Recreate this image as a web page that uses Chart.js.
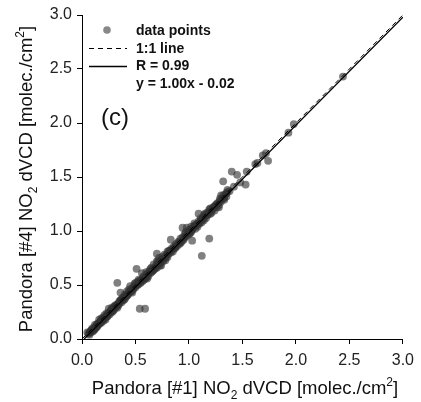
<!DOCTYPE html>
<html>
<head>
<meta charset="utf-8">
<script src="https://cdn.jsdelivr.net/npm/chart.js@4"></script>
<style>
html, body { margin: 0; padding: 0; background: #fff; }
</style>
</head>
<body>
<canvas id="scatter-chart" width="421" height="402"></canvas>
<script>
// NO2 dVCD, Pandora #1 (x) vs Pandora #4 (y)
const pandora1 = [
  0.06, 0.07, 0.08, 0.09, 0.10, 0.10, 0.11, 0.12, 0.12, 0.13,
  0.14, 0.14, 0.15, 0.16, 0.16, 0.17, 0.18, 0.18, 0.19, 0.20,
  0.20, 0.21, 0.22, 0.23, 0.23, 0.24, 0.25, 0.25, 0.26, 0.27,
  0.28, 0.28, 0.29, 0.30, 0.31, 0.31, 0.32, 0.33, 0.34, 0.35,
  0.35, 0.36, 0.37, 0.38, 0.39, 0.40, 0.40, 0.41, 0.42, 0.43,
  0.44, 0.45, 0.45, 0.46, 0.47, 0.48, 0.49, 0.50, 0.50, 0.51,
  0.52, 0.53, 0.54, 0.55, 0.56, 0.56, 0.57, 0.58, 0.59, 0.60,
  0.60, 0.61, 0.62, 0.63, 0.64, 0.65, 0.65, 0.66, 0.67, 0.68,
  0.69, 0.70, 0.70, 0.71, 0.72, 0.73, 0.74, 0.74, 0.75, 0.76,
  0.77, 0.78, 0.79, 0.80, 0.80, 0.81, 0.82, 0.83, 0.84, 0.85,
  0.86, 0.87, 0.88, 0.89, 0.90, 0.91, 0.92, 0.93, 0.94, 0.95,
  0.96, 0.97, 0.98, 0.99, 1.00, 1.00, 1.01, 1.02, 1.03, 1.04,
  1.05, 1.06, 1.07, 1.08, 1.09, 1.10, 1.11, 1.12, 1.13, 1.14,
  1.15, 1.16, 1.17, 1.18, 1.19, 1.20, 1.21, 1.22, 1.23, 1.24,
  1.25, 1.26, 1.27, 1.28, 1.29, 1.30, 1.31, 1.32, 1.33, 1.34,
  1.35, 1.36, 1.30, 1.32, 1.28, 1.20, 1.14, 1.08, 1.02, 0.96,
  0.08, 0.11, 0.13, 0.15, 0.17, 0.19, 0.21, 0.24, 0.26, 0.29,
  0.32, 0.34, 0.36, 0.38, 0.41, 0.43, 0.46, 0.48, 0.52, 0.55,
  0.58, 0.62, 0.66, 0.69, 0.72, 0.76, 0.79, 0.83, 0.87, 0.91,
  0.94, 0.98, 1.03, 1.06, 1.10, 1.13, 1.17, 1.22, 1.26, 1.33,
  0.07, 0.09, 0.12, 0.14, 0.16, 0.18, 0.20, 0.22, 0.24, 0.27,
  0.30, 0.33, 0.37, 0.39, 0.42, 0.44, 0.47, 0.49, 0.53, 0.57,
  0.61, 0.64, 0.67, 0.71, 0.73, 0.75, 0.78, 0.81, 0.85, 0.88,
  0.92, 0.97, 1.01, 1.05, 1.11, 1.15, 1.19, 1.24, 1.29, 1.35,
  0.05, 0.33, 0.36, 0.51, 0.54, 0.59, 0.70, 0.83, 0.94, 1.03,
  1.09, 1.12, 1.19, 1.32, 1.40, 1.45, 1.48, 1.53, 1.54, 1.62,
  1.64, 1.69, 1.72, 1.74, 1.93, 1.98, 2.44, 1.38, 1.42, 1.36
];
const pandora4 = [
  0.05, 0.06, 0.06, 0.08, 0.07, 0.10, 0.09, 0.10, 0.13, 0.11,
  0.14, 0.12, 0.13, 0.15, 0.18, 0.15, 0.17, 0.19, 0.17, 0.20,
  0.17, 0.22, 0.20, 0.21, 0.24, 0.22, 0.28, 0.24, 0.25, 0.27,
  0.25, 0.29, 0.28, 0.27, 0.31, 0.29, 0.30, 0.32, 0.31, 0.35,
  0.33, 0.36, 0.34, 0.38, 0.36, 0.41, 0.37, 0.40, 0.44, 0.41,
  0.43, 0.49, 0.44, 0.45, 0.47, 0.46, 0.51, 0.48, 0.52, 0.50,
  0.53, 0.51, 0.54, 0.53, 0.61, 0.55, 0.54, 0.58, 0.56, 0.62,
  0.57, 0.60, 0.58, 0.63, 0.61, 0.66, 0.62, 0.64, 0.69, 0.65,
  0.68, 0.72, 0.66, 0.69, 0.75, 0.70, 0.73, 0.68, 0.74, 0.72,
  0.78, 0.75, 0.77, 0.81, 0.76, 0.79, 0.82, 0.80, 0.84, 0.81,
  0.86, 0.84, 0.88, 0.86, 0.90, 0.88, 0.93, 0.90, 0.94, 0.92,
  0.97, 0.95, 1.03, 0.98, 1.01, 0.97, 1.00, 1.04, 1.01, 1.03,
  1.05, 1.02, 1.06, 1.04, 1.09, 1.07, 1.10, 1.08, 1.12, 1.10,
  1.14, 1.12, 1.17, 1.15, 1.18, 1.21, 1.17, 1.20, 1.22, 1.19,
  1.24, 1.22, 1.26, 1.24, 1.28, 1.27, 1.30, 1.33, 1.29, 1.34,
  1.32, 1.36, 1.33, 1.30, 1.22, 1.16, 1.15, 1.06, 0.99, 0.94,
  0.07, 0.08, 0.12, 0.14, 0.16, 0.18, 0.19, 0.23, 0.23, 0.26,
  0.31, 0.33, 0.35, 0.36, 0.39, 0.42, 0.44, 0.47, 0.50, 0.52,
  0.55, 0.61, 0.63, 0.66, 0.71, 0.74, 0.78, 0.82, 0.85, 0.90,
  0.92, 0.96, 1.02, 1.05, 1.08, 1.11, 1.15, 1.21, 1.25, 1.31,
  0.04, 0.09, 0.09, 0.11, 0.14, 0.15, 0.19, 0.18, 0.21, 0.25,
  0.30, 0.29, 0.37, 0.39, 0.40, 0.46, 0.43, 0.49, 0.55, 0.57,
  0.56, 0.65, 0.64, 0.72, 0.68, 0.76, 0.73, 0.81, 0.83, 0.86,
  0.89, 0.99, 0.98, 1.07, 1.12, 1.16, 1.20, 1.23, 1.30, 1.35,
  0.06, 0.52, 0.43, 0.65, 0.28, 0.28, 0.79, 0.92, 1.03, 0.91,
  1.16, 0.77, 0.93, 1.46, 1.55, 1.52, 1.45, 1.43, 1.55, 1.62,
  1.63, 1.70, 1.72, 1.65, 1.91, 1.99, 2.43, 1.37, 1.41, 1.38
];
const oneToOne = [[0, 0], [3, 3]];
const fitLine = [[0.02, 0], [3, 2.98]];   // y = 1.00x - 0.02
const legendItems = ['data points', '1:1 line', 'R = 0.99', 'y = 1.00x - 0.02'];
const panelLabel = '(c)';
const axisMin = 0, axisMax = 3, axisStep = 0.5;

const FONT = '"Liberation Sans", Arial, sans-serif';
const pointColor = 'rgba(50,50,50,0.62)';

// draws text with sub/superscript pieces, centred on (0,0) baseline
function drawRich(ctx, parts, size) {
  const small = size * 0.65;
  let total = 0;
  parts.forEach(p => {
    ctx.font = (p.sub || p.sup ? small : size) + 'px ' + FONT;
    p.w = ctx.measureText(p.t).width;
    total += p.w;
  });
  let x = -total / 2;
  parts.forEach(p => {
    ctx.font = (p.sub || p.sup ? small : size) + 'px ' + FONT;
    let dy = 0;
    if (p.sub) dy = size * 0.28;
    if (p.sup) dy = -size * 0.42;
    ctx.fillText(p.t, x, dy);
    x += p.w;
  });
}

const extras = {
  id: 'extras',
  afterDraw(chart) {
    const ctx = chart.ctx;
    ctx.save();
    ctx.fillStyle = '#111';
    ctx.textBaseline = 'alphabetic';
    ctx.textAlign = 'left';

    // axis titles
    ctx.save();
    ctx.translate(245, 394);
    drawRich(ctx, [{t: 'Pandora [#1] NO'}, {t: '2', sub: true}, {t: ' dVCD [molec./cm'}, {t: '2', sup: true}, {t: ']'}], 18.5);
    ctx.restore();
    ctx.save();
    ctx.translate(32, 179);
    ctx.rotate(-Math.PI / 2);
    drawRich(ctx, [{t: 'Pandora [#4] NO'}, {t: '2', sub: true}, {t: ' dVCD [molec./cm'}, {t: '2', sup: true}, {t: ']'}], 18.5);
    ctx.restore();

    // legend
    ctx.fillStyle = '#888';
    ctx.beginPath();
    ctx.arc(107, 30, 3.8, 0, Math.PI * 2);
    ctx.fill();
    ctx.strokeStyle = '#000';
    ctx.lineWidth = 1;
    ctx.setLineDash([5, 4]);
    ctx.beginPath(); ctx.moveTo(89, 48.5); ctx.lineTo(127, 48.5); ctx.stroke();
    ctx.setLineDash([]);
    ctx.lineWidth = 1.5;
    ctx.beginPath(); ctx.moveTo(89, 66.5); ctx.lineTo(127, 66.5); ctx.stroke();
    ctx.fillStyle = '#111';
    ctx.font = 'bold 14px ' + FONT;
    legendItems.forEach((txt, i) => ctx.fillText(txt, 136, 35 + i * 17.7));

    ctx.font = '24px ' + FONT;
    ctx.fillText(panelLabel, 101, 125);
    ctx.restore();
  }
};

const ticksCfg = {
  stepSize: axisStep,
  color: '#222',
  font: {family: FONT, size: 16},
  callback: v => v.toFixed(1)
};
const gridCfg = {drawOnChartArea: false, drawTicks: true, tickLength: 5, color: '#000', lineWidth: 1};

new Chart(document.getElementById('scatter-chart').getContext('2d'), {
  type: 'scatter',
  data: {
    datasets: [
      {
        label: legendItems[2],
        data: fitLine.map(p => ({x: p[0], y: p[1]})),
        showLine: true, borderColor: '#000', borderWidth: 1.3,
        pointRadius: 0, order: 0
      },
      {
        label: legendItems[1],
        data: oneToOne.map(p => ({x: p[0], y: p[1]})),
        showLine: true, borderColor: '#000', borderWidth: 1, borderDash: [5, 4],
        pointRadius: 0, order: 1
      },
      {
        label: legendItems[0],
        data: pandora1.map((x, i) => ({x: x, y: pandora4[i]})),
        backgroundColor: pointColor, borderWidth: 0,
        pointRadius: 3.9, order: 2
      }
    ]
  },
  options: {
    responsive: false,
    animation: false,
    layout: {padding: {top: 15, right: 15, left: 0, bottom: 0}},
    plugins: {legend: {display: false}, tooltip: {enabled: false}},
    scales: {
      x: {
        min: axisMin, max: axisMax,
        ticks: Object.assign({padding: 7}, ticksCfg),
        grid: gridCfg,
        border: {color: '#000', width: 1},
        afterFit: s => { s.height = 63; }
      },
      y: {
        min: axisMin, max: axisMax,
        ticks: Object.assign({padding: 5}, ticksCfg),
        grid: gridCfg,
        border: {color: '#000', width: 1},
        afterFit: s => { s.width = 82; }
      }
    }
  },
  plugins: [extras]
});
</script>
</body>
</html>
